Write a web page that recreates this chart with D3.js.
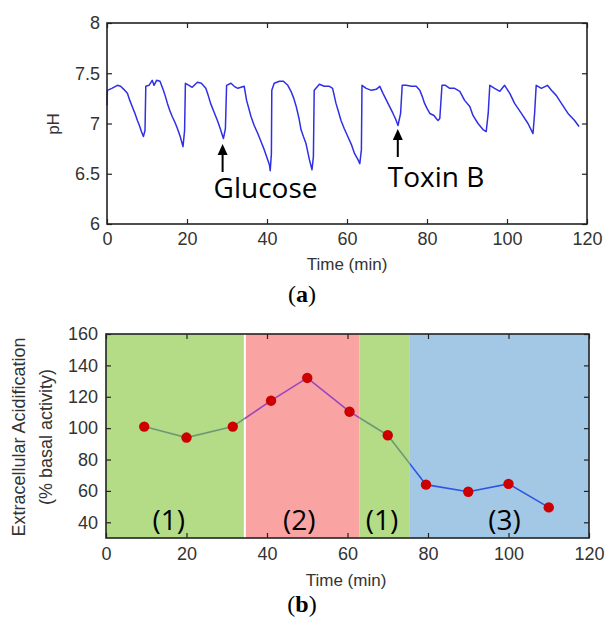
<!DOCTYPE html>
<html>
<head>
<meta charset="utf-8">
<script src="https://cdn.jsdelivr.net/npm/d3@7"></script>
<style>
  body { margin: 0; background: #fff; }
  svg text { font-family: "Liberation Sans", Arial, sans-serif; }
</style>
</head>
<body>
<svg id="chart" width="605" height="628"></svg>
<script>
"use strict";

// (a) pH trace
var phTime = [0, 0.1, 1.2, 2.6, 3.4, 4.2, 5.1, 5.7, 6.3, 7.0, 7.6, 8.1, 8.6, 9.1, 9.5,
  9.7, 10.5, 11.3, 11.75, 12.4, 13.25, 14.1, 14.6, 15.1, 15.7, 16.3, 17.0, 17.6, 18.3, 19.0, 19.4,
  19.6, 20.5, 21.3, 22.6, 23.6, 24.7, 25.3, 25.9, 26.7, 27.6, 28.3, 29.1, 29.6,
  29.9, 31.0, 31.8, 32.7, 33.5, 34.3, 34.9, 36.0, 36.8, 37.7, 38.5, 39.3, 40.0, 40.6, 40.8, 41.1,
  41.2, 41.8, 43.1, 44.1, 45.2, 46.0, 46.7, 47.3, 48.0, 48.5, 49.1, 49.75, 50.6, 51.25, 51.6,
  51.8, 53.1, 54.3, 55.6, 56.4, 57.25, 58.0, 58.5, 59.3, 60.2, 61.1, 61.9, 62.75, 63.2, 63.6,
  63.75, 64.8, 66.1, 67.3, 68.2, 69.0, 70.25, 71.5, 72.2, 72.75, 73.4,
  73.8, 74.8, 76.1, 77.3, 78.2, 78.8, 79.4, 80.0, 80.7, 81.75, 82.3, 82.75, 83.2,
  83.75, 84.6, 85.7, 86.9, 88.2, 89.4, 90.7, 91.5, 92.75, 94.0, 94.8, 95.3,
  95.7, 96.9, 98.2, 99.4, 100.7, 101.9, 103.6, 105.25, 106.5, 106.9,
  107.3, 108.6, 110.1, 111.1, 112.3, 113.6, 115.25, 116.9, 118.0];
var phValue = [7.18, 7.33, 7.35, 7.38, 7.37, 7.34, 7.30, 7.23, 7.17, 7.10, 7.03, 6.98, 6.92, 6.87, 6.93,
  7.37, 7.38, 7.43, 7.38, 7.43, 7.42, 7.33, 7.27, 7.20, 7.13, 7.07, 7.01, 6.95, 6.87, 6.77, 6.93,
  7.40, 7.38, 7.36, 7.41, 7.40, 7.35, 7.28, 7.20, 7.12, 7.03, 6.95, 6.85, 6.95,
  7.38, 7.40, 7.37, 7.35, 7.36, 7.37, 7.23, 7.07, 6.98, 6.90, 6.82, 6.74, 6.66, 6.59, 6.53, 6.70,
  7.33, 7.40, 7.42, 7.42, 7.38, 7.32, 7.25, 7.17, 7.05, 6.94, 6.87, 6.80, 6.64, 6.54, 6.67,
  7.33, 7.39, 7.37, 7.37, 7.35, 7.20, 7.10, 7.03, 6.95, 6.87, 6.79, 6.70, 6.64, 6.60, 6.74,
  7.38, 7.35, 7.33, 7.34, 7.37, 7.30, 7.20, 7.10, 7.04, 6.98, 7.10,
  7.38, 7.38, 7.37, 7.37, 7.33, 7.27, 7.20, 7.15, 7.10, 7.08, 7.05, 7.03, 7.05,
  7.38, 7.38, 7.35, 7.35, 7.32, 7.23, 7.17, 7.08, 7.00, 6.94, 6.92, 7.10,
  7.38, 7.35, 7.32, 7.38, 7.30, 7.20, 7.10, 7.00, 6.90, 7.10,
  7.38, 7.35, 7.38, 7.33, 7.28, 7.20, 7.10, 7.03, 6.97];
var arrowNames = ["Glucose", "Toxin B"];
var arrowTime = [28.9, 72.7];
var phTicks = [6, 6.5, 7, 7.5, 8];
var timeTicks = [0, 20, 40, 60, 80, 100, 120];

// (b) extracellular acidification
var acidTime = [9.5, 20, 31.5, 41, 50, 60.5, 70, 79.5, 90, 100, 110];
var acidValue = [101, 94, 101, 117.5, 132, 110.5, 95.5, 64, 59.5, 64.5, 49.5];
var acidTicks = [40, 60, 80, 100, 120, 140, 160];
var phaseStart = [0, 34.5, 63, 75.5];
var phaseEnd = [34.5, 63, 75.5, 120];
var phaseLabel = ["(1)", "(2)", "(1)", "(3)"];
var phaseLabelTime = [15.6, 48, 68.6, 99];

var phaseFill = ["#b4dc86", "#f9a3a2", "#b4dc86", "#a3c8e6"];
var phaseLine = ["#6f9874", "#9a44c2", "#6f9874", "#2e55e2"];
var ink = "#333";

var svg = d3.select("#chart");

function frameAxes(g, x, y, yTicks, yFmt, xPad, yPad) {
  var h = y.range()[0], w = x.range()[1];
  g.append("g").attr("transform", "translate(0," + h + ")")
    .call(d3.axisBottom(x).tickValues(timeTicks).tickSizeInner(-5).tickSizeOuter(0).tickPadding(xPad));
  g.append("g").attr("transform", "translate(" + x.range()[0] + ",0)")
    .call(d3.axisLeft(y).tickValues(yTicks).tickFormat(yFmt).tickSizeInner(-5).tickSizeOuter(0).tickPadding(yPad));
  g.append("g").attr("transform", "translate(0," + y.range()[1] + ")")
    .call(d3.axisTop(x).tickValues(timeTicks).tickSizeInner(-5).tickSizeOuter(0).tickFormat(""));
  g.append("g").attr("transform", "translate(" + w + ",0)")
    .call(d3.axisRight(y).tickValues(yTicks).tickSizeInner(-5).tickSizeOuter(0).tickFormat(""));
  g.selectAll(".domain").remove();
  g.selectAll(".tick line").attr("stroke", "#222").attr("stroke-width", 1.2);
  g.selectAll(".tick text").attr("fill", ink).style("font-size", "18px")
    .style("font-family", "'Liberation Sans', Arial, sans-serif");
  g.append("rect")
    .attr("x", x.range()[0]).attr("y", y.range()[1])
    .attr("width", w - x.range()[0]).attr("height", h - y.range()[1])
    .attr("fill", "none").attr("stroke", "#222").attr("stroke-width", 1.6);
}

// ---------- panel (a) ----------
var xa = d3.scaleLinear().domain([0, 120]).range([107, 587]);
var ya = d3.scaleLinear().domain([6, 8]).range([224, 23]);
var ga = svg.append("g");

var phData = phTime.map(function(t, i){ return [t, phValue[i]]; });
ga.append("path").datum(phData)
  .attr("d", d3.line().x(function(d){ return xa(d[0]); }).y(function(d){ return ya(d[1]); }))
  .attr("fill", "none").attr("stroke", "#2f2fe6").attr("stroke-width", 1.5)
  .attr("stroke-linejoin", "round");

frameAxes(ga, xa, ya, phTicks, d3.format("~g"), 8, 7);

// arrows + labels
var arrowTip = [144, 129];
var arrowText = [198, 187];
arrowNames.forEach(function(name, i){
  var ax = xa(arrowTime[i]), tip = arrowTip[i];
  ga.append("line").attr("x1", ax).attr("x2", ax)
    .attr("y1", tip + 28).attr("y2", tip + 9)
    .attr("stroke", "#000").attr("stroke-width", 2);
  ga.append("path")
    .attr("d", "M" + (ax - 5) + "," + (tip + 11) + "L" + ax + "," + tip + "L" + (ax + 5) + "," + (tip + 11) + "Z")
    .attr("fill", "#000");
  ga.append("text").attr("x", ax - 9 + (i ? -1 : 0)).attr("y", arrowText[i])
    .style("font-family", "'Open Sans', sans-serif").style("font-size", "28px")
    .attr("fill", "#000").text(name);
});

ga.append("text").attr("x", 347).attr("y", 270).attr("text-anchor", "middle")
  .attr("fill", ink).style("font-size", "17px").text("Time (min)");
ga.append("text").attr("transform", "translate(59,124) rotate(-90)").attr("text-anchor", "middle")
  .attr("fill", ink).style("font-size", "17px").text("pH");

// ---------- panel (b) ----------
var xb = d3.scaleLinear().domain([0, 120]).range([106, 589]);
var yb = d3.scaleLinear().domain([30, 160]).range([538, 334]);
var gb = svg.append("g");

var phases = phaseStart.map(function(s, i){ return {s: s, e: phaseEnd[i], i: i}; });
gb.selectAll("rect.phase").data(phases).enter().append("rect").attr("class", "phase")
  .attr("x", function(d){ return xb(d.s); }).attr("y", yb(160))
  .attr("width", function(d){ return xb(d.e) - xb(d.s); }).attr("height", yb(30) - yb(160))
  .attr("fill", function(d){ return phaseFill[d.i]; });
gb.append("line").attr("x1", xb(phaseStart[1])).attr("x2", xb(phaseStart[1]))
  .attr("y1", yb(160)).attr("y2", yb(30)).attr("stroke", "#fff").attr("stroke-width", 2);

var defs = gb.append("defs");
phases.forEach(function(d){
  defs.append("clipPath").attr("id", "clip" + d.i).append("rect")
    .attr("x", xb(d.s)).attr("y", yb(160)).attr("width", xb(d.e) - xb(d.s)).attr("height", yb(30) - yb(160));
});

var acidData = acidTime.map(function(t, i){ return [t, acidValue[i]]; });
var acidLine = d3.line().x(function(d){ return xb(d[0]); }).y(function(d){ return yb(d[1]); });
phases.forEach(function(d){
  gb.append("path").datum(acidData).attr("d", acidLine)
    .attr("clip-path", "url(#clip" + d.i + ")")
    .attr("fill", "none").attr("stroke", phaseLine[d.i]).attr("stroke-width", 1.6);
});

gb.selectAll("text.phase").data(phaseLabel).enter().append("text").attr("class", "phase")
  .attr("x", function(d, i){ return xb(phaseLabelTime[i]); }).attr("y", 530)
  .attr("text-anchor", "middle").attr("fill", "#000")
  .style("font-family", "'Open Sans', sans-serif").style("font-size", "28px")
  .text(function(d){ return d; });

gb.selectAll("circle").data(acidData).enter().append("circle")
  .attr("cx", function(d){ return xb(d[0]); }).attr("cy", function(d){ return yb(d[1]); })
  .attr("r", 5.2).attr("fill", "#cc0000");

frameAxes(gb, xb, yb, acidTicks, d3.format("d"), 9, 8);

gb.append("text").attr("x", 346).attr("y", 586).attr("text-anchor", "middle")
  .attr("fill", ink).style("font-size", "17px").text("Time (min)");
var ylab = gb.append("text").attr("transform", "translate(0,437) rotate(-90)")
  .attr("text-anchor", "middle").attr("fill", ink).style("font-size", "18px");
ylab.append("tspan").attr("x", 0).attr("y", 25).text("Extracellular Acidification");
ylab.append("tspan").attr("x", 0).attr("y", 52).text("(% basal activity)");

// panel captions
[["a", 302], ["b", 612]].forEach(function(c){
  var t = svg.append("text").attr("x", 302).attr("y", c[1]).attr("text-anchor", "middle")
    .style("font-family", "'Liberation Serif', 'Times New Roman', serif").style("font-size", "24px").attr("fill", "#000");
  t.append("tspan").text("(");
  t.append("tspan").style("font-weight", "bold").text(c[0]);
  t.append("tspan").text(")");
});
</script>
</body>
</html>
